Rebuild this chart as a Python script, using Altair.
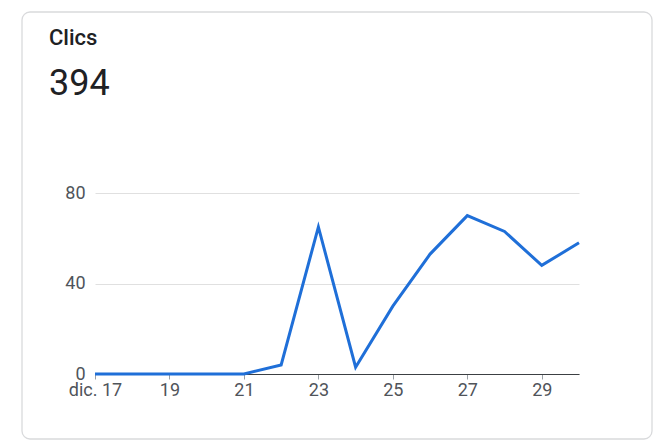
import altair as alt
import pandas as pd

days = [17, 18, 19, 20, 21, 22, 23, 24, 25, 26, 27, 28, 29, 30]
clicks = [0, 0, 0, 0, 0, 4, 65, 3, 30, 53, 70, 63, 48, 58]
x_ticks = [17, 19, 21, 23, 25, 27, 29]
y_ticks = [0, 40, 80]
metric_name = "Clics"

df = pd.DataFrame({"day": days, "clicks": clicks})
head = pd.DataFrame({"label": [metric_name], "total": [str(sum(clicks))]})

card = alt.Chart(head).mark_rect(
    fillOpacity=0, stroke="#d9dadc", strokeWidth=1.3, cornerRadius=8
).encode(
    x=alt.value(-73), x2=alt.value(557), y=alt.value(-181), y2=alt.value(246)
)

line = alt.Chart(df).mark_line(color="#1f6fd8", strokeWidth=3).encode(
    x=alt.X("day:Q", scale=alt.Scale(domain=[17, 30], nice=False, zero=False),
            axis=alt.Axis(values=x_ticks, title=None, grid=False, labelFlush=False,
                          labelExpr="datum.value == 17 ? 'dic. 17' : datum.value",
                          labelFontSize=18, labelColor="#50545a", labelFont="Roboto",
                          domainColor="#3c4043", tickColor="#9aa0a6", tickSize=5,
                          labelPadding=2)),
    y=alt.Y("clicks:Q", scale=alt.Scale(domain=[0, 80], nice=False),
            axis=alt.Axis(values=y_ticks, title=None, domain=False, ticks=False,
                          gridColor="#e0e0e0", labelFontSize=18, labelColor="#50545a",
                          labelFont="Roboto", labelPadding=10)),
)

title_txt = alt.Chart(head).mark_text(
    align="left", baseline="alphabetic", font="Roboto", fontSize=22,
    fontWeight=500, color="#202124"
).encode(x=alt.value(-46), y=alt.value(-148), text="label:N")

total_txt = alt.Chart(head).mark_text(
    align="left", baseline="alphabetic", font="Roboto", fontSize=36, color="#202124"
).encode(x=alt.value(-46), y=alt.value(-98), text="total:N")

chart = alt.layer(card, line, title_txt, total_txt).properties(
    width=484, height=181,
    autosize=alt.AutoSizeParams(type="none"),
    padding={"left": 95, "top": 193, "right": 80, "bottom": 67},
    background="#ffffff",
).configure_view(stroke=None)

chart.save("out.html", embed_options={"renderer": "svg", "actions": False})
